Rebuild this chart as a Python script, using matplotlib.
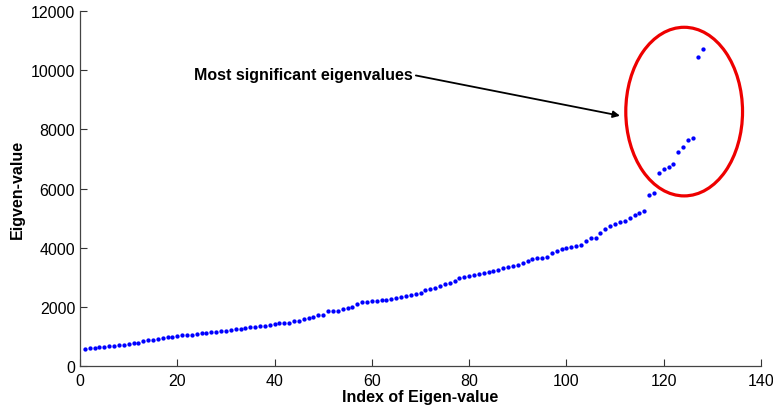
import matplotlib
matplotlib.use("Agg")
import matplotlib.pyplot as plt
from matplotlib.patches import Ellipse

plt.rcParams['font.family'] = ['Liberation Sans', 'DejaVu Sans']

eigenvalues = [
    590, 605, 620, 631, 642, 665, 687, 699, 721, 755,
    766, 789, 845, 868, 890, 924, 946, 969, 992, 1025,
    1037, 1040, 1055, 1095, 1127, 1130, 1140, 1150, 1172, 1183,
    1217, 1262, 1265, 1296, 1307, 1330, 1352, 1363, 1386, 1409,
    1443, 1446, 1465, 1510, 1533, 1595, 1633, 1667, 1714, 1734,
    1849, 1859, 1862, 1917, 1950, 1984, 2086, 2164, 2174, 2197,
    2208, 2221, 2242, 2265, 2310, 2322, 2377, 2411, 2450, 2470,
    2569, 2614, 2647, 2705, 2762, 2806, 2874, 2964, 3019, 3053,
    3087, 3110, 3133, 3189, 3212, 3256, 3302, 3347, 3370, 3426,
    3472, 3539, 3600, 3641, 3651, 3685, 3820, 3878, 3945, 3989,
    4023, 4067, 4100, 4230, 4310, 4330, 4507, 4615, 4723, 4800,
    4875, 4915, 5005, 5105, 5180, 5240, 5790, 5840, 6510, 6660,
    6720, 6840, 7230, 7400, 7630, 7720, 10450, 10720,
]
indices = list(range(1, len(eigenvalues) + 1))

x_ticks = [0, 20, 40, 60, 80, 100, 120, 140]
y_ticks = [0, 2000, 4000, 6000, 8000, 10000, 12000]

fig = plt.figure(figsize=(7.73, 4.10), dpi=100)
ax = fig.add_axes([0.1035, 0.1049, 0.881, 0.8658])

ax.plot(indices, eigenvalues, linestyle='none', marker='o', markersize=3.1,
        color='#0000ff', markeredgewidth=0)

ax.set_xlim(0, 140)
ax.set_ylim(0, 12000)
ax.set_xticks(x_ticks)
ax.set_yticks(y_ticks)
ax.tick_params(direction='in', length=5, width=0.8, labelsize=11.5,
               colors='#333333', labelcolor='black')
ax.tick_params(axis='x', pad=5)
for side in ['top', 'right']:
    ax.spines[side].set_visible(False)
for side in ['left', 'bottom']:
    ax.spines[side].set_color('#444444')
    ax.spines[side].set_linewidth(0.9)

ax.set_xlabel('Index of Eigen-value', fontsize=11.5, fontweight='bold', labelpad=1)
ax.set_ylabel('Eigven-value', fontsize=11.5, fontweight='bold', labelpad=4)

ax.add_patch(Ellipse((124.2, 8600), 24, 5700, fill=False, edgecolor='#ee0000',
                     linewidth=2.3, clip_on=False))

ax.annotate('Most significant eigenvalues', xy=(111, 8460), xytext=(23.5, 9840),
            fontsize=11.5, fontweight='bold', va='center', ha='left',
            arrowprops=dict(arrowstyle='-|>', color='black', lw=1.3,
                            mutation_scale=10, shrinkA=0, shrinkB=0,
                            relpos=(1.0, 0.5)))

fig.savefig('out.png', dpi=100)
